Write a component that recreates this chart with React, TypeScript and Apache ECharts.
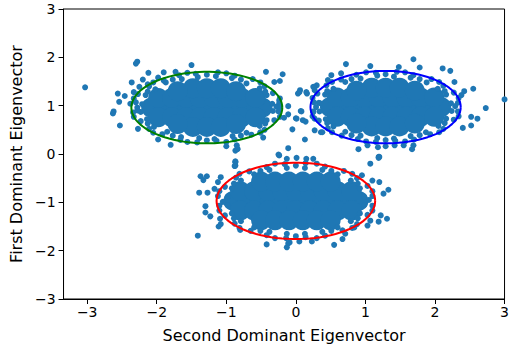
import React, { useEffect, useRef } from "react";
import * as echarts from "echarts";

// Tick labels
const xTicks = [-3, -2, -1, 0, 1, 2, 3];

// Dense core of each cluster (drawn as larger dots)
const coreGreen: number[][] = [
  [-2.08, 0.96], [-1.88, 0.96], [-1.68, 0.96], [-1.48, 0.96], [-1.28, 0.96], [-1.08, 0.96], [-0.88, 0.96], [-0.68, 0.96], [-0.48, 0.96],
  [-1.98, 1.16], [-1.78, 1.16], [-1.58, 1.16], [-1.38, 1.16], [-1.18, 1.16], [-0.98, 1.16], [-0.78, 1.16], [-0.58, 1.16],
  [-1.98, 0.76], [-1.78, 0.76], [-1.58, 0.76], [-1.38, 0.76], [-1.18, 0.76], [-0.98, 0.76], [-0.78, 0.76], [-0.58, 0.76],
  [-1.48, 1.36], [-1.28, 1.36], [-1.08, 1.36], [-1.7, 1.3], [-0.86, 1.3],
  [-1.48, 0.56], [-1.28, 0.56], [-1.08, 0.56], [-1.7, 0.62], [-0.86, 0.62],
];
const coreBlue: number[][] = [
  [0.49, 0.97], [0.69, 0.97], [0.89, 0.97], [1.09, 0.97], [1.29, 0.97], [1.49, 0.97], [1.69, 0.97], [1.89, 0.97], [2.09, 0.97],
  [0.59, 1.17], [0.79, 1.17], [0.99, 1.17], [1.19, 1.17], [1.39, 1.17], [1.59, 1.17], [1.79, 1.17], [1.99, 1.17],
  [0.59, 0.77], [0.79, 0.77], [0.99, 0.77], [1.19, 0.77], [1.39, 0.77], [1.59, 0.77], [1.79, 0.77], [1.99, 0.77],
  [1.09, 1.37], [1.29, 1.37], [1.49, 1.37], [0.87, 1.31], [1.71, 1.31],
  [1.09, 0.57], [1.29, 0.57], [1.49, 0.57], [0.87, 0.63], [1.71, 0.63],
];
const coreRed: number[][] = [
  [-0.9, -0.97], [-0.7, -0.97], [-0.5, -0.97], [-0.3, -0.97], [-0.1, -0.97], [0.1, -0.97], [0.3, -0.97], [0.5, -0.97], [0.7, -0.97], [0.9, -0.97],
  [-0.8, -0.77], [-0.6, -0.77], [-0.4, -0.77], [-0.2, -0.77], [0, -0.77], [0.2, -0.77], [0.4, -0.77], [0.6, -0.77], [0.8, -0.77],
  [-0.8, -1.17], [-0.6, -1.17], [-0.4, -1.17], [-0.2, -1.17], [0, -1.17], [0.2, -1.17], [0.4, -1.17], [0.6, -1.17], [0.8, -1.17],
  [-0.5, -0.57], [-0.3, -0.57], [-0.1, -0.57], [0.1, -0.57], [0.3, -0.57], [0.5, -0.57],
  [-0.5, -1.37], [-0.3, -1.37], [-0.1, -1.37], [0.1, -1.37], [0.3, -1.37], [0.5, -1.37],
];

// Individual points around each cluster
const pointsGreen: number[][] = [
  // fringe
  [-0.34, 1.04], [-0.42, 1.22], [-0.52, 1.36], [-0.71, 1.46], [-0.92, 1.57], [-1.15, 1.61], [-1.41, 1.59], [-1.64, 1.55],
  [-1.87, 1.48], [-2.02, 1.34], [-2.16, 1.22], [-2.21, 1.03], [-2.23, 0.87], [-2.14, 0.72], [-2.04, 0.56], [-1.85, 0.46],
  [-1.65, 0.35], [-1.39, 0.33], [-1.17, 0.31], [-0.91, 0.37], [-0.71, 0.44], [-0.52, 0.58], [-0.42, 0.7], [-0.33, 0.89],
  [-0.28, 0.98], [-0.23, 1.15], [-0.44, 1.29], [-0.51, 1.48], [-0.79, 1.54], [-1.0, 1.67], [-1.28, 1.64], [-1.56, 1.68],
  [-1.77, 1.54], [-2.05, 1.48], [-2.13, 1.29], [-2.33, 1.15], [-2.28, 0.96], [-2.33, 0.77], [-2.13, 0.63], [-2.05, 0.44],
  [-1.77, 0.38], [-1.56, 0.25], [-1.28, 0.28], [-1.0, 0.25], [-0.79, 0.38], [-0.51, 0.44], [-0.44, 0.63], [-0.23, 0.77],
  [-0.24, 1.05], [-0.33, 1.26], [-0.45, 1.4], [-0.62, 1.55], [-0.88, 1.62], [-1.12, 1.69], [-1.44, 1.66], [-1.68, 1.63],
  [-1.9, 1.52], [-2.11, 1.4], [-2.27, 1.24], [-2.3, 1.07], [-2.34, 0.86], [-2.23, 0.68], [-2.11, 0.52], [-1.92, 0.41],
  [-1.66, 0.29], [-1.42, 0.24], [-1.14, 0.27], [-0.88, 0.3], [-0.64, 0.4], [-0.45, 0.5], [-0.31, 0.7], [-0.25, 0.88],
  [-2.25, 1.39], [-2.33, 1.28], [-2.13, 1.44], [-2.28, 0.9],
  // outliers
  [-3.03, 1.38], [-2.28, 1.91], [-2.3, 1.87], [-2.56, 1.25], [-2.46, 1.2], [-2.54, 1.08], [-2.62, 0.88], [-2.63, 0.84],
  [-2.53, 0.59], [-2.36, 1.48], [-2.12, 1.68], [-2.2, 1.54], [-2.38, 1.04], [-2.27, 0.52], [-1.98, 0.3], [-1.8, 0.19],
  [-1.9, 1.69], [-1.98, 1.58], [-1.73, 1.7], [-1.5, 1.84], [-0.43, 1.7], [-0.19, 1.65], [-0.31, 1.49], [-0.23, 1.51],
  [-0.11, 0.99], [-0.11, 0.82], [-0.17, 0.75], [-0.05, 0.51], [-0.47, 0.34], [-0.85, 0.18], [-0.84, 0.1], [-1.0, 0.16],
  [-0.24, 1.11], [-0.23, 0.97], [-0.51, 0.45], [-0.87, 0.07], [-0.87, -0.15], [-0.87, -0.24], [-0.24, -0.03], [-0.11, 0.12],
  [0.03, 1.25], [0.06, 1.32], [0.0, 0.74], [0.07, 0.89], [0.16, 1.25], [0.14, 0.67], [0.1, 0.7], [0.13, 0.3],
  [0.3, 1.42], [0.27, 1.32], [0.33, 1.06], [0.25, 0.87], [0.27, 0.73], [0.27, 0.49], [0.36, 0.45], [0.46, 1.53],
];
const pointsBlue: number[][] = [
  // fringe
  [2.23, 1.05], [2.16, 1.23], [2.04, 1.35], [1.88, 1.48], [1.65, 1.58], [1.41, 1.6], [1.17, 1.62], [0.93, 1.56],
  [0.71, 1.49], [0.54, 1.35], [0.42, 1.23], [0.35, 1.05], [0.34, 0.88], [0.43, 0.72], [0.54, 0.57], [0.71, 0.46],
  [0.93, 0.38], [1.17, 0.33], [1.41, 0.32], [1.65, 0.37], [1.87, 0.45], [2.05, 0.58], [2.16, 0.73], [2.24, 0.89],
  [2.29, 0.99], [2.34, 1.16], [2.14, 1.3], [2.06, 1.49], [1.78, 1.55], [1.57, 1.69], [1.29, 1.65], [1.01, 1.69],
  [0.8, 1.55], [0.52, 1.49], [0.45, 1.3], [0.24, 1.16], [0.29, 0.97], [0.24, 0.78], [0.45, 0.64], [0.52, 0.45],
  [0.8, 0.39], [1.01, 0.26], [1.29, 0.29], [1.57, 0.26], [1.78, 0.39], [2.06, 0.45], [2.14, 0.64], [2.34, 0.78],
  [2.33, 1.06], [2.27, 1.27], [2.12, 1.41], [1.95, 1.55], [1.69, 1.63], [1.45, 1.7], [1.15, 1.68], [0.87, 1.64],
  [0.65, 1.54], [0.44, 1.42], [0.31, 1.25], [0.26, 1.07], [0.25, 0.88], [0.33, 0.69], [0.46, 0.53], [0.66, 0.38],
  [0.89, 0.31], [1.15, 0.25], [1.43, 0.27], [1.7, 0.3], [1.93, 0.41], [2.12, 0.52], [2.27, 0.71], [2.33, 0.88],
  // outliers
  [0.72, 1.86], [1.07, 1.82], [1.69, 1.96], [1.78, 1.79], [2.11, 1.77], [2.22, 1.72], [2.28, 1.49], [2.42, 1.3],
  [2.38, 1.22], [2.55, 1.35], [2.73, 0.95], [3.0, 1.13], [2.52, 0.77], [2.61, 0.73], [2.52, 0.59], [2.4, 0.54],
  [1.69, 0.18], [1.67, 0.1], [1.19, -0.06], [0.9, 0.1], [0.38, 0.45], [0.01, 0.73], [0.08, 0.88], [0.05, 1.28],
  [0.15, 1.28], [0.25, 1.39], [0.51, 1.63], [0.65, 1.67], [1.48, 1.8],
];
const pointsRed: number[][] = [
  // fringe
  [0.98, -0.88], [0.92, -0.71], [0.79, -0.55], [0.6, -0.42], [0.38, -0.33], [0.13, -0.29], [-0.13, -0.29], [-0.38, -0.33],
  [-0.6, -0.42], [-0.79, -0.55], [-0.92, -0.71], [-0.98, -0.88], [-0.98, -1.06], [-0.92, -1.23], [-0.79, -1.39], [-0.6, -1.52],
  [-0.38, -1.61], [-0.13, -1.65], [0.13, -1.65], [0.38, -1.61], [0.6, -1.52], [0.79, -1.39], [0.92, -1.23], [0.98, -1.06],
  [1.05, -0.95], [1.1, -0.77], [0.89, -0.61], [0.81, -0.41], [0.51, -0.35], [0.3, -0.2], [0.0, -0.24], [-0.3, -0.2],
  [-0.51, -0.35], [-0.81, -0.41], [-0.89, -0.61], [-1.1, -0.77], [-1.05, -0.99], [-1.1, -1.17], [-0.89, -1.33], [-0.81, -1.53],
  [-0.51, -1.59], [-0.3, -1.74], [0.0, -1.7], [0.3, -1.74], [0.51, -1.59], [0.81, -1.53], [0.89, -1.33], [1.1, -1.17],
  [1.1, -0.87], [1.03, -0.66], [0.88, -0.5], [0.69, -0.35], [0.42, -0.26], [0.14, -0.19], [-0.16, -0.21], [-0.42, -0.27],
  [-0.67, -0.36], [-0.86, -0.49], [-1.02, -0.68], [-1.12, -0.87], [-1.1, -1.07], [-1.02, -1.27], [-0.88, -1.44], [-0.65, -1.59],
  [-0.42, -1.68], [-0.14, -1.74], [0.14, -1.72], [0.42, -1.69], [0.67, -1.58], [0.88, -1.45], [1.03, -1.26], [1.1, -1.07],
  // outliers
  [-0.84, 0.11], [-0.87, -0.17], [-0.88, -0.25], [-1.37, -0.46], [-1.33, -0.54], [-1.28, -0.46], [-1.39, -0.8], [-1.27, -0.8],
  [-1.17, -0.72], [-1.3, -1.08], [-1.3, -1.21], [-1.23, -1.29], [-1.09, -1.34], [-1.08, -1.45], [-1.11, -1.5], [-1.41, -1.69],
  [-0.8, -1.57], [-0.42, -1.87], [-0.11, -1.85], [-0.13, -1.93], [-1.08, -0.48], [-1.12, -0.58], [1.2, -0.06], [1.07, -0.2],
  [0.95, -0.44], [1.1, -0.55], [1.2, -0.58], [1.33, -0.74], [1.26, -0.82], [1.22, -1.27], [1.31, -1.34], [1.19, -1.4],
  [1.07, -1.38], [1.03, -1.48], [0.84, -1.52], [0.71, -1.65], [0.67, -1.76], [0.55, -1.88], [0.23, -1.81], [-0.09, -1.83],
  [0.05, -1.81], [-0.25, -0.01], [-0.13, -0.1], [0.01, -0.08], [0.15, -0.1], [0.25, -0.1], [1.03, 0.18], [1.18, 0.14],
  [1.29, 0.16], [1.42, 0.18], [1.55, 0.18], [1.19, -0.08],
];

// Ellipse fits: centre and semi-axes
const ellipseCenters: number[][] = [[-1.28, 0.96], [1.29, 0.97], [0.0, -0.97]];
const ellipseRadii: number[][] = [[1.085, 0.74], [1.08, 0.75], [1.14, 0.79]];
const ellipseColors = ["#008000", "#0000ff", "#ff0000"];

const FONT = "DejaVu Sans";
const fmt = (v: number) => String(v).replace("-", "\u2212");

export default function App() {
  const ref = useRef<HTMLDivElement>(null);
  useEffect(() => {
    if (!ref.current) return;
    const chart = echarts.init(ref.current, undefined, { renderer: "svg" });
    const ellipseSeries = ellipseCenters.map((c, i) => {
      const pts: number[][] = [];
      for (let k = 0; k <= 90; k++) {
        const t = (k / 90) * Math.PI * 2;
        pts.push([c[0] + ellipseRadii[i][0] * Math.cos(t), c[1] + ellipseRadii[i][1] * Math.sin(t)]);
      }
      return {
        type: "line",
        data: pts,
        showSymbol: false,
        symbol: "none",
        lineStyle: { color: ellipseColors[i], width: 2 },
        z: 5,
        silent: true,
      };
    });
    chart.setOption({
      animation: false,
      backgroundColor: "#fff",
      grid: { left: 60, right: 4, top: 9, bottom: 50, show: true, borderColor: "#000", borderWidth: 1, backgroundColor: "transparent" },
      xAxis: {
        type: "value",
        min: -3.34,
        max: 3,
        axisLine: { show: true, onZero: false, lineStyle: { color: "#000", width: 1 } },
        axisTick: { show: true, customValues: xTicks, length: 5, lineStyle: { color: "#000" } },
        axisLabel: { customValues: xTicks, formatter: fmt, color: "#000", fontSize: 14, fontFamily: FONT, margin: 6 },
        splitLine: { show: false },
        name: "Second Dominant Eigenvector",
        nameLocation: "middle",
        nameGap: 28,
        nameTextStyle: { color: "#000", fontSize: 16, fontFamily: FONT },
      },
      yAxis: {
        type: "value",
        min: -3,
        max: 3,
        interval: 1,
        axisLine: { show: true, onZero: false, lineStyle: { color: "#000", width: 1 } },
        axisTick: { show: true, length: 5, lineStyle: { color: "#000" } },
        axisLabel: { formatter: fmt, color: "#000", fontSize: 14, fontFamily: FONT, margin: 8 },
        splitLine: { show: false },
        name: "First Dominant Eigenvector",
        nameLocation: "middle",
        nameGap: 36,
        nameRotate: 90,
        nameTextStyle: { color: "#000", fontSize: 16, fontFamily: FONT },
      },
      series: [
        {
          type: "scatter",
          data: [...coreGreen, ...coreBlue, ...coreRed],
          symbolSize: 20,
          itemStyle: { color: "#1f77b4", opacity: 1 },
          silent: true,
          z: 2,
        },
        {
          type: "scatter",
          data: [...pointsGreen, ...pointsBlue, ...pointsRed],
          symbolSize: 6,
          itemStyle: { color: "#1f77b4", opacity: 1 },
          silent: true,
          z: 3,
        },
        ...ellipseSeries,
      ],
    });
    return () => chart.dispose();
  }, []);
  return <div ref={ref} style={{ position: "fixed", left: 0, top: 0, width: 512, height: 349 }} />;
}
